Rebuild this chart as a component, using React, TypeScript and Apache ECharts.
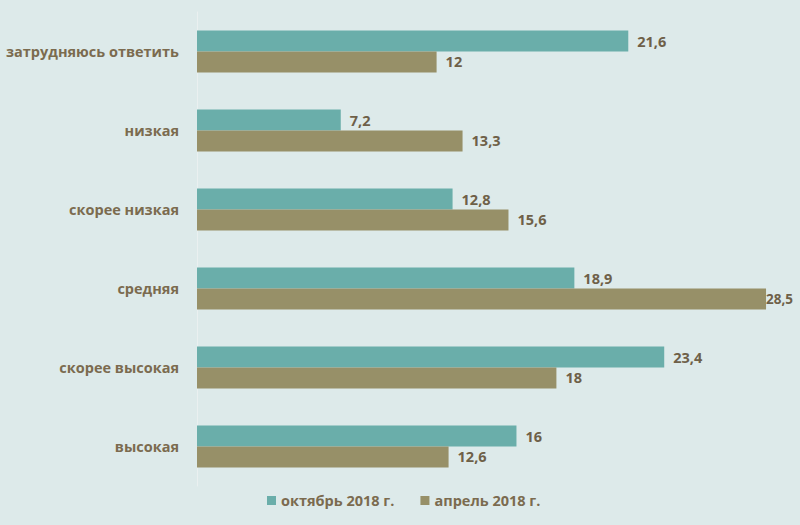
import React, { useEffect, useRef } from "react";
import * as echarts from "echarts";

const categories = ["затрудняюсь ответить", "низкая", "скорее низкая", "средняя", "скорее высокая", "высокая"];
const october2018 = [21.6, 7.2, 12.8, 18.9, 23.4, 16];
const april2018 = [12, 13.3, 15.6, 28.5, 18, 12.6];
const seriesNames = ["октябрь 2018 г.", "апрель 2018 г."];

const fmt = (v: number) => String(v).replace(".", ",");

export default function App() {
  const ref = useRef<HTMLDivElement>(null);
  useEffect(() => {
    if (!ref.current) return;
    const chart = echarts.init(ref.current, null, { renderer: "svg" });
    const labelStyle = {
      show: true,
      position: "right" as const,
      distance: 9,
      color: "#6e6048",
      fontFamily: "Open Sans",
      fontWeight: 700,
      fontSize: 14.5,
      formatter: (p: any) => fmt(p.value),
    };
    const maxVal = Math.max(...april2018);
    const aprilData = april2018.map((v) =>
      v === maxVal ? { value: v, label: { distance: 0, fontSize: 13.5 } } : v
    );
    chart.setOption({
      animation: false,
      backgroundColor: "#ddeaea",
      grid: { left: 197, right: 4, top: 12, bottom: 39 },
      legend: {
        bottom: 12,
        left: 262,
        itemWidth: 9,
        itemHeight: 9,
        itemGap: 26,
        icon: "rect",
        textStyle: { color: "#7b6b4f", fontFamily: "Open Sans", fontWeight: 700, fontSize: 14.5 },
        data: seriesNames,
      },
      xAxis: {
        type: "value",
        min: 0,
        max: 30,
        show: false,
      },
      yAxis: {
        type: "category",
        data: categories,
        inverse: true,
        axisLine: { show: true, lineStyle: { color: "#eaf0f0", width: 1 } },
        axisTick: { show: false },
        axisLabel: {
          color: "#7b6b4f",
          fontFamily: "Open Sans",
          fontWeight: 700,
          fontSize: 14.5,
          margin: 18,
        },
      },
      series: [
        {
          name: seriesNames[0],
          type: "bar",
          data: october2018,
          itemStyle: { color: "#6aaeaa" },
          barGap: "0%",
          barCategoryGap: "47%",
          label: labelStyle,
        },
        {
          name: seriesNames[1],
          type: "bar",
          data: aprilData,
          itemStyle: { color: "#979068" },
          barGap: "0%",
          barCategoryGap: "47%",
          label: labelStyle,
        },
      ],
    });
    return () => chart.dispose();
  }, []);
  return <div ref={ref} style={{ width: 800, height: 525, position: "fixed", left: 0, top: 0 }} />;
}
